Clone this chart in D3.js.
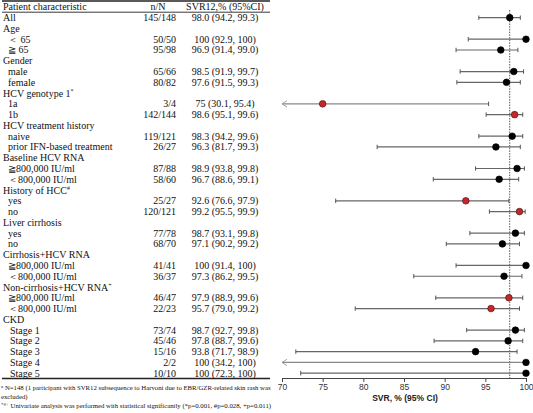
<!DOCTYPE html>
<html>
<head>
<meta charset="utf-8">
<script src="https://cdn.jsdelivr.net/npm/d3@7"></script>
<style>
  html, body { margin: 0; padding: 0; background: #fff; }
  svg { display: block; }
  .tbl { font-family: "Liberation Serif", "Times New Roman", serif; font-size: 10px; fill: #111; }
  .foot { font-family: "Liberation Serif", "Times New Roman", serif; font-size: 6.75px; fill: #111; }
  .axis text { font-family: "Liberation Sans", Arial, sans-serif; font-size: 8.5px; fill: #333; }
</style>
</head>
<body>
<svg id="chart" width="533" height="413"></svg>
<script>
// ---------------- data ----------------
const labels = ["All","Age","\uFF1C 65","\u2267 65","Gender","male","female","HCV genotype 1","1a","1b",
  "HCV treatment history","naive","prior IFN-based treatment","Baseline HCV RNA","\u2267800,000 IU/ml","\uFF1C800,000 IU/ml",
  "History of HCC","yes","no","Liver cirrhosis","yes","no","Cirrhosis+HCV RNA","\u2267800,000 IU/ml","\uFF1C800,000 IU/ml",
  "Non-cirrhosis+HCV RNA","\u2267800,000 IU/ml","\uFF1C800,000 IU/ml","CKD","Stage 1","Stage 2","Stage 3","Stage 4","Stage 5"];
const labelMarks = ["","","","","","","","*","","","","","","","","","#","","","","","","","","","+","","","","","","","",""];
const levels = [0,0,1,1,0,1,1,0,1,1,0,1,1,0,1,1,0,1,1,0,1,1,0,1,1,0,1,1,0,2,2,2,2,2];
const nN = ["145/148","","50/50","95/98","","65/66","80/82","","3/4","142/144","","119/121","26/27","","87/88","58/60",
  "","25/27","120/121","","77/78","68/70","","41/41","36/37","","46/47","22/23","","73/74","45/46","15/16","2/2","10/10"];
const svrText = ["98.0 (94.2, 99.3)","","100 (92.9, 100)","96.9 (91.4, 99.0)","","98.5 (91.9, 99.7)","97.6 (91.5, 99.3)","",
  "75 (30.1, 95.4)","98.6 (95.1, 99.6)","","98.3 (94.2, 99.6)","96.3 (81.7, 99.3)","","98.9 (93.8, 99.8)","96.7 (88.6, 99.1)","",
  "92.6 (76.6, 97.9)","99.2 (95.5, 99.9)","","98.7 (93.1, 99.8)","97.1 (90.2, 99.2)","","100 (91.4, 100)","97.3 (86.2, 99.5)","",
  "97.9 (88.9, 99.6)","95.7 (79.0, 99.2)","","98.7 (92.7, 99.8)","97.8 (88.7, 99.6)","93.8 (71.7, 98.9)","100 (34.2, 100)","100 (72.3, 100)"];
const svr   = [98.0,null,100,96.9,null,98.5,97.6,null,75,98.6,null,98.3,96.3,null,98.9,96.7,null,92.6,99.2,null,98.7,97.1,null,100,97.3,null,97.9,95.7,null,98.7,97.8,93.8,100,100];
const lower = [94.2,null,92.9,91.4,null,91.9,91.5,null,30.1,95.1,null,94.2,81.7,null,93.8,88.6,null,76.6,95.5,null,93.1,90.2,null,91.4,86.2,null,88.9,79.0,null,92.7,88.7,71.7,34.2,72.3];
const upper = [99.3,null,100,99.0,null,99.7,99.3,null,95.4,99.6,null,99.6,99.3,null,99.8,99.1,null,97.9,99.9,null,99.8,99.2,null,100,99.5,null,99.6,99.2,null,99.8,99.6,98.9,100,100];
const significant = [false,false,false,false,false,false,false,false,true,true,false,false,false,false,false,false,false,true,true,false,false,false,false,false,false,false,true,true,false,false,false,false,false,false];
const overallSVR = 98.0;
const xTicks = [70,75,80,85,90,95,100];
const headers = ["Patient characteristic","n/N","SVR12,% (95%CI)"];
const footnotes = [
  ["a","N=148 (1 participant with SVR12 subsequence to Harvoni due to EBR/GZR-related skin rash was"],
  ["","excluded)"],
  ["*#+","Univariate analysis was performed with statistical significantly (*p=0.001, #p=0.028, +p=0.011)"]
];

// ---------------- layout ----------------
const svg = d3.select("#chart");
const x = d3.scaleLinear().domain([70,100]).range([282,526]);
const y = d3.scalePoint().domain(d3.range(labels.length + 1)).range([6.9, 373.2]);
const axisY = 378;
const indent = [3, 8, 10];
const nNRight = 176;
const svrCenter = 225;

// table rules
const tbl = svg.append("g");
tbl.append("line").attr("x1",2).attr("x2",270).attr("y1",1).attr("y2",1).attr("stroke","#222").attr("stroke-width",1.5);
tbl.append("line").attr("x1",2).attr("x2",270).attr("y1",12.2).attr("y2",12.2).attr("stroke","#222").attr("stroke-width",0.9);
tbl.append("line").attr("x1",2).attr("x2",270).attr("y1",378.5).attr("y2",378.5).attr("stroke","#222").attr("stroke-width",1.3);

// headers
tbl.append("text").attr("class","tbl").attr("x",indent[0]).attr("y",y(0)).attr("dy","0.35em").text(headers[0]);
tbl.append("text").attr("class","tbl").attr("x",158).attr("y",y(0)).attr("dy","0.35em").attr("text-anchor","middle").text(headers[1]);
tbl.append("text").attr("class","tbl").attr("x",svrCenter).attr("y",y(0)).attr("dy","0.35em").attr("text-anchor","middle").text(headers[2]);

labels.forEach((lab, i) => {
  const yy = y(i + 1);
  const t = tbl.append("text").attr("class","tbl").attr("x",indent[levels[i]]).attr("y",yy).attr("dy","0.35em");
  t.append("tspan").text(lab);
  if (labelMarks[i]) t.append("tspan").attr("font-size","6px").attr("dy","-3.5").text(labelMarks[i]);
  if (nN[i]) tbl.append("text").attr("class","tbl").attr("x",nNRight).attr("y",yy).attr("dy","0.35em").attr("text-anchor","end").text(nN[i]);
  if (svrText[i]) tbl.append("text").attr("class","tbl").attr("x",svrCenter).attr("y",yy).attr("dy","0.35em").attr("text-anchor","middle").text(svrText[i]);
});

// footnotes
const fy = [389.5, 398.5, 408];
footnotes.forEach((f, i) => {
  const t = svg.append("text").attr("class","foot").attr("x",1).attr("y",fy[i]);
  if (f[0]) t.append("tspan").attr("font-size","5px").attr("dy","-2").text(f[0]);
  t.append("tspan").attr("dy", f[0] ? "2" : "0").text((f[0] ? " " : "") + f[1]);
});

// ---------------- forest plot ----------------
const plot = svg.append("g");
const xmin = x.domain()[0];

// reference line
plot.append("line")
  .attr("x1", x(overallSVR)).attr("x2", x(overallSVR))
  .attr("y1", 10).attr("y2", axisY)
  .attr("stroke","#555").attr("stroke-width",1).attr("stroke-dasharray","1.5,1.2");

labels.forEach((lab, i) => {
  if (svr[i] == null) return;
  const yy = y(i + 1);
  const clipped = lower[i] < xmin;
  const lo = clipped ? xmin : lower[i];
  plot.append("line").attr("x1",x(lo)).attr("x2",x(upper[i])).attr("y1",yy).attr("y2",yy)
    .attr("stroke", clipped ? "#888" : "#666").attr("stroke-width",1.2);
  if (clipped) {
    plot.append("path")
      .attr("d", `M${x(lo)+5},${yy-3.2} L${x(lo)},${yy} L${x(lo)+5},${yy+3.2}`)
      .attr("fill","none").attr("stroke","#999").attr("stroke-width",0.9);
  } else {
    plot.append("line").attr("x1",x(lo)).attr("x2",x(lo)).attr("y1",yy-2.2).attr("y2",yy+2.2).attr("stroke","#555").attr("stroke-width",1);
  }
  plot.append("line").attr("x1",x(upper[i])).attr("x2",x(upper[i])).attr("y1",yy-2.2).attr("y2",yy+2.2).attr("stroke","#555").attr("stroke-width",1);
  plot.append("circle").attr("cx",x(svr[i])).attr("cy",yy).attr("r",3.3)
    .attr("fill", significant[i] ? "#c3282c" : "#000")
    .attr("stroke", significant[i] ? "#5a1010" : "#000").attr("stroke-width",0.7);
});

// axis
const ax = svg.append("g").attr("class","axis").attr("transform",`translate(0,${axisY})`)
  .call(d3.axisBottom(x).tickValues(xTicks).tickSize(4).tickSizeOuter(0).tickPadding(2));
ax.select(".domain").attr("stroke","#444").attr("stroke-width",1.2);
ax.selectAll(".tick line").attr("stroke","#444");
svg.append("text").attr("x", 405).attr("y", 401)
  .attr("text-anchor","middle")
  .style("font-family","\"Liberation Sans\", Arial, sans-serif").style("font-size","8.5px").style("font-weight","bold").style("fill","#222")
  .text("SVR, % (95% CI)");
</script>
</body>
</html>
